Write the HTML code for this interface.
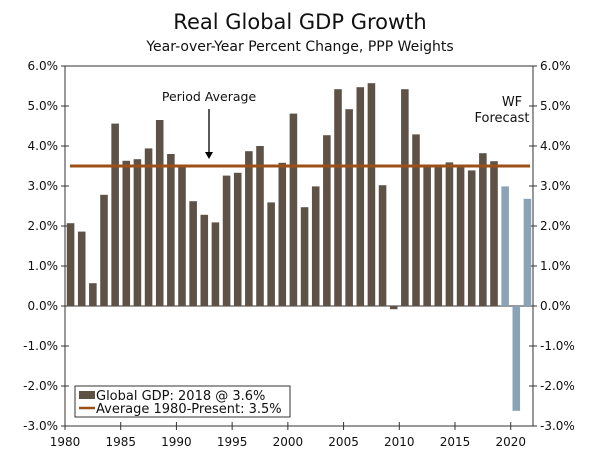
<!DOCTYPE html>
<html><head><meta charset="utf-8"><style>
html,body{margin:0;padding:0;background:#fff;}
svg text{font-family:"DejaVu Sans","Liberation Sans",sans-serif;fill:#111;}
</style></head><body>
<svg id="chart" width="600" height="453" viewBox="0 0 600 453">
<text x="300" y="29" text-anchor="middle" font-size="21">Real Global GDP Growth</text>
<text x="300" y="51" text-anchor="middle" font-size="14">Year-over-Year Percent Change, PPP Weights</text>
<g id="axes"></g>
<g id="bars"></g>
<g id="annot"></g>
</svg>
<script>
const years = [1980,1981,1982,1983,1984,1985,1986,1987,1988,1989,1990,1991,1992,1993,1994,1995,1996,1997,1998,1999,2000,2001,2002,2003,2004,2005,2006,2007,2008,2009,2010,2011,2012,2013,2014,2015,2016,2017,2018,2019,2020,2021];
const growth = [2.07,1.86,0.57,2.78,4.56,3.63,3.67,3.94,4.65,3.80,3.50,2.62,2.28,2.09,3.26,3.33,3.87,4.00,2.59,3.58,4.81,2.47,2.99,4.27,5.42,4.92,5.47,5.57,3.02,-0.08,5.42,4.29,3.50,3.50,3.59,3.48,3.39,3.82,3.62,2.99,-2.62,2.68];
const isForecast = [0,0,0,0,0,0,0,0,0,0,0,0,0,0,0,0,0,0,0,0,0,0,0,0,0,0,0,0,0,0,0,0,0,0,0,0,0,0,0,1,1,1];
const yTicks = [6,5,4,3,2,1,0,-1,-2,-3];
const xTickYears = [1980,1985,1990,1995,2000,2005,2010,2015,2020];
const average = [3.5];

const NS="http://www.w3.org/2000/svg";
const L=65,R=533,T=66,B=426,yMin=-3,yMax=6,x0=1980,x1=2022;
const yS=v=>B-(v-yMin)/(yMax-yMin)*(B-T);
const xS=yr=>L+(yr-x0)/(x1-x0)*(R-L);
function mk(tag,attrs,parent,txt){const e=document.createElementNS(NS,tag);for(const k in attrs)e.setAttribute(k,attrs[k]);if(txt!==undefined)e.textContent=txt;parent.appendChild(e);return e;}
const axes=document.getElementById('axes'),bars=document.getElementById('bars'),annot=document.getElementById('annot');

let f=mk('rect',{x:L,y:T,width:R-L,height:B-T,fill:'none',stroke:'#333','stroke-width':1},axes);


yTicks.forEach(v=>{
  const y=yS(v);
  let t=mk('line',{x1:L-4,x2:L+4,y1:y,y2:y,stroke:'#333'},axes);
  
  
  t=mk('line',{x1:R-4,x2:R+4,y1:y,y2:y,stroke:'#333'},axes);
  
  
  let lb=mk('text',{x:L-7,y:y+4,'text-anchor':'end','font-size':12},axes,v.toFixed(1)+'%');
  
  
  lb=mk('text',{x:R+7,y:y+4,'text-anchor':'start','font-size':12},axes,v.toFixed(1)+'%');
  
  
});
xTickYears.forEach(yr=>{
  const x=xS(yr);
  let t=mk('line',{x1:x,x2:x,y1:B-4,y2:B+4,stroke:'#333'},axes);
  
  
  let lb=mk('text',{x:x,y:B+20,'text-anchor':'middle','font-size':12},axes,String(yr));
  
  
});
const slot=(R-L)/(x1-x0),bw=slot*0.68;
years.forEach((yr,i)=>{
  const v=growth[i],cx=xS(yr)+slot/2,y0=yS(0),yv=yS(v);
  const r=mk('rect',{x:cx-bw/2,y:Math.min(y0,yv),width:bw,height:Math.max(1.5,Math.abs(yv-y0)),fill:isForecast[i]?'#8ba3b6':'#5e5247'},bars);
  
  
});
let z=mk('line',{x1:L,x2:R,y1:yS(0),y2:yS(0),stroke:'#333','stroke-width':1},axes);


let av=mk('line',{x1:L+5,x2:R-3,y1:yS(average[0]),y2:yS(average[0]),stroke:'#9c4f17','stroke-width':3},annot);


let a=mk('text',{x:209,y:101,'text-anchor':'middle','font-size':12.5},annot,'Period Average');


a=mk('line',{x1:209,x2:209,y1:109,y2:153,stroke:'#000','stroke-width':1.3},annot);


a=mk('polygon',{points:'205,152 213,152 209,159',fill:'#000'},annot);


a=mk('text',{x:512,y:106,'text-anchor':'middle','font-size':13},annot,'WF');


a=mk('text',{x:502,y:122,'text-anchor':'middle','font-size':13},annot,'Forecast');


let lg=mk('g',{},annot);


mk('rect',{x:75,y:386,width:215,height:31,fill:'#fff',stroke:'#333','stroke-width':1},lg);
let e=mk('rect',{x:79,y:391,width:16,height:8,fill:'#5e5247'},lg);


e=mk('text',{x:96,y:400,'font-size':13},lg,'Global GDP: 2018 @ 3.6%');


e=mk('line',{x1:79,x2:95,y1:408,y2:408,stroke:'#9c4f17','stroke-width':2.5},lg);


e=mk('text',{x:96,y:413,'font-size':13},lg,'Average 1980-Present: 3.5%');


</script>
</body></html>
